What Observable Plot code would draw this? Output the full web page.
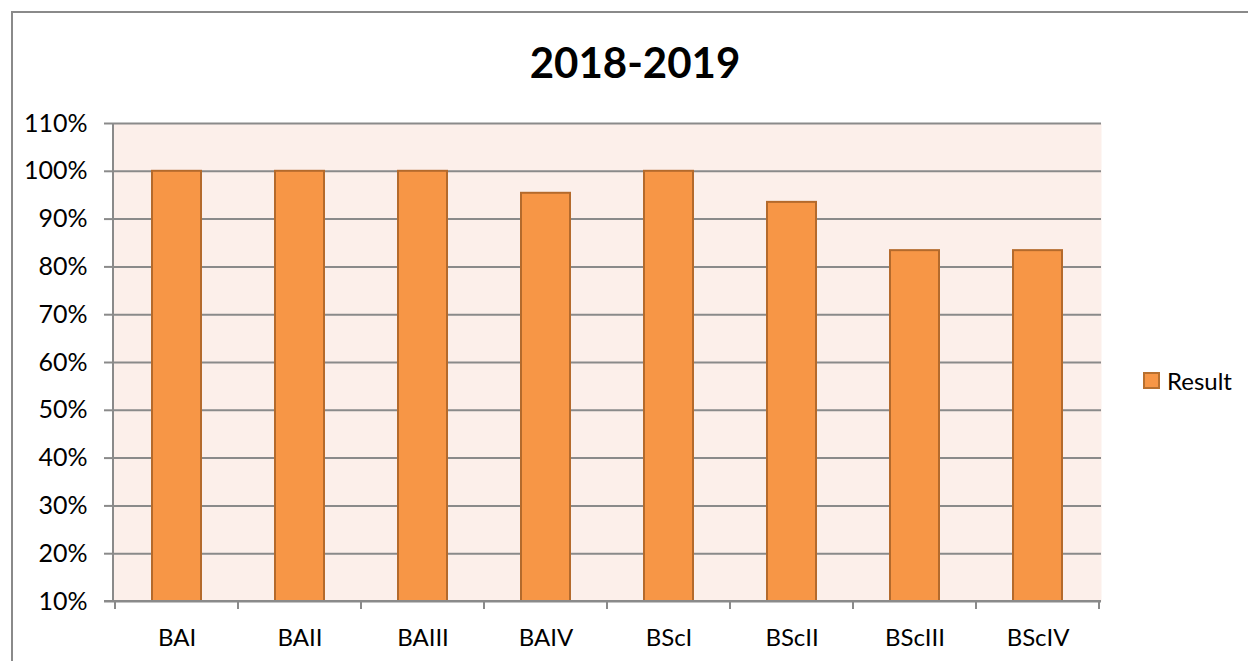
<!DOCTYPE html>
<html>
<head>
<meta charset="utf-8">
<script src="https://cdn.jsdelivr.net/npm/d3@7"></script>
<script src="https://cdn.jsdelivr.net/npm/@observablehq/plot@0.6"></script>
<style>
  html, body { margin: 0; padding: 0; background: #fff; }
  #wrap { position: relative; width: 1248px; height: 661px; overflow: hidden; font-family: Lato, "Open Sans", sans-serif; }
  #border { position: absolute; left: 11px; top: 11px; width: 1300px; height: 700px; border: 2px solid #8a8a8a; box-sizing: border-box; }
  #title { position: absolute; left: 435px; top: 34px; width: 400px; text-align: center; font-weight: bold; font-size: 42px; line-height: 56px; color: #000; }
  #legend { position: absolute; left: 1143px; top: 366px; display: flex; align-items: center; font-size: 24px; color: #000; }
  #legend .sw { width: 13px; height: 13px; background: #f79646; border: 2px solid #b8702f; margin-right: 7px; }
  #chart { position: absolute; left: 0; top: 0; }
</style>
</head>
<body>
<div id="wrap">
  <div id="border"></div>
  <div id="title">2018-2019</div>
  <div id="legend"><div class="sw"></div><span>Result</span></div>
  <div id="chart"></div>
</div>
<script>
const categories = ["BAI", "BAII", "BAIII", "BAIV", "BScI", "BScII", "BScIII", "BScIV"];
const results = [1.0, 1.0, 1.0, 0.954, 1.0, 0.935, 0.834, 0.834];
const yTicks = [0.1, 0.2, 0.3, 0.4, 0.5, 0.6, 0.7, 0.8, 0.9, 1.0, 1.1];

const data = categories.map((c, i) => ({category: c, value: results[i]}));

const axisLines = (index, scales, values, dimensions) => {
  const x = scales.x, y = scales.y;
  const g = d3.create("svg:g");
  const left = dimensions.marginLeft;
  const right = dimensions.width - dimensions.marginRight;
  const bottom = y(0.1);
  const top = y(1.1);
  g.append("line").attr("x1", left).attr("x2", left).attr("y1", top).attr("y2", bottom)
    .attr("stroke", "#8a8a8a").attr("stroke-width", 2);
  g.append("line").attr("x1", left - 9).attr("x2", right).attr("y1", bottom).attr("y2", bottom)
    .attr("stroke", "#8a8a8a").attr("stroke-width", 2);
  const step = x.step();
  const starts = categories.map(c => x(c) - (step - x.bandwidth()) / 2);
  starts.push(starts[starts.length - 1] + step);
  for (const sx of starts) {
    g.append("line").attr("x1", sx).attr("x2", sx).attr("y1", bottom).attr("y2", bottom + 8)
      .attr("stroke", "#8a8a8a").attr("stroke-width", 2);
  }
  return g.node();
};

const chart = Plot.plot({
  width: 1248,
  height: 661,
  marginLeft: 113,
  marginRight: 147,
  marginTop: 123,
  marginBottom: 60,
  style: {fontFamily: "Lato, 'Open Sans', sans-serif", fontSize: "24px", color: "#000", background: "transparent"},
  x: {domain: categories, paddingInner: 0.6, paddingOuter: 0.3, label: null},
  y: {domain: [0.1, 1.1], label: null},
  marks: [
    Plot.frame({fill: "#fcefea", stroke: null}),
    Plot.gridY(yTicks, {stroke: "#8a8a8a", strokeOpacity: 1, strokeWidth: 2}),
    Plot.barY(data, {x: "category", y1: 0.1, y2: "value", fill: "#f79646", stroke: "#b46a2c", strokeWidth: 2}),
    Plot.axisY(yTicks, {tickSize: 9, tickPadding: 17, stroke: "#8a8a8a", strokeWidth: 2, fill: "#000", fontSize: 25, tickFormat: d => Math.round(d * 100) + "%", label: null}),
    Plot.axisX({tickSize: 0, tickPadding: 27, fill: "#000", fontSize: 24, label: null}),
    axisLines
  ]
});
document.getElementById("chart").appendChild(chart);
</script>
</body>
</html>
